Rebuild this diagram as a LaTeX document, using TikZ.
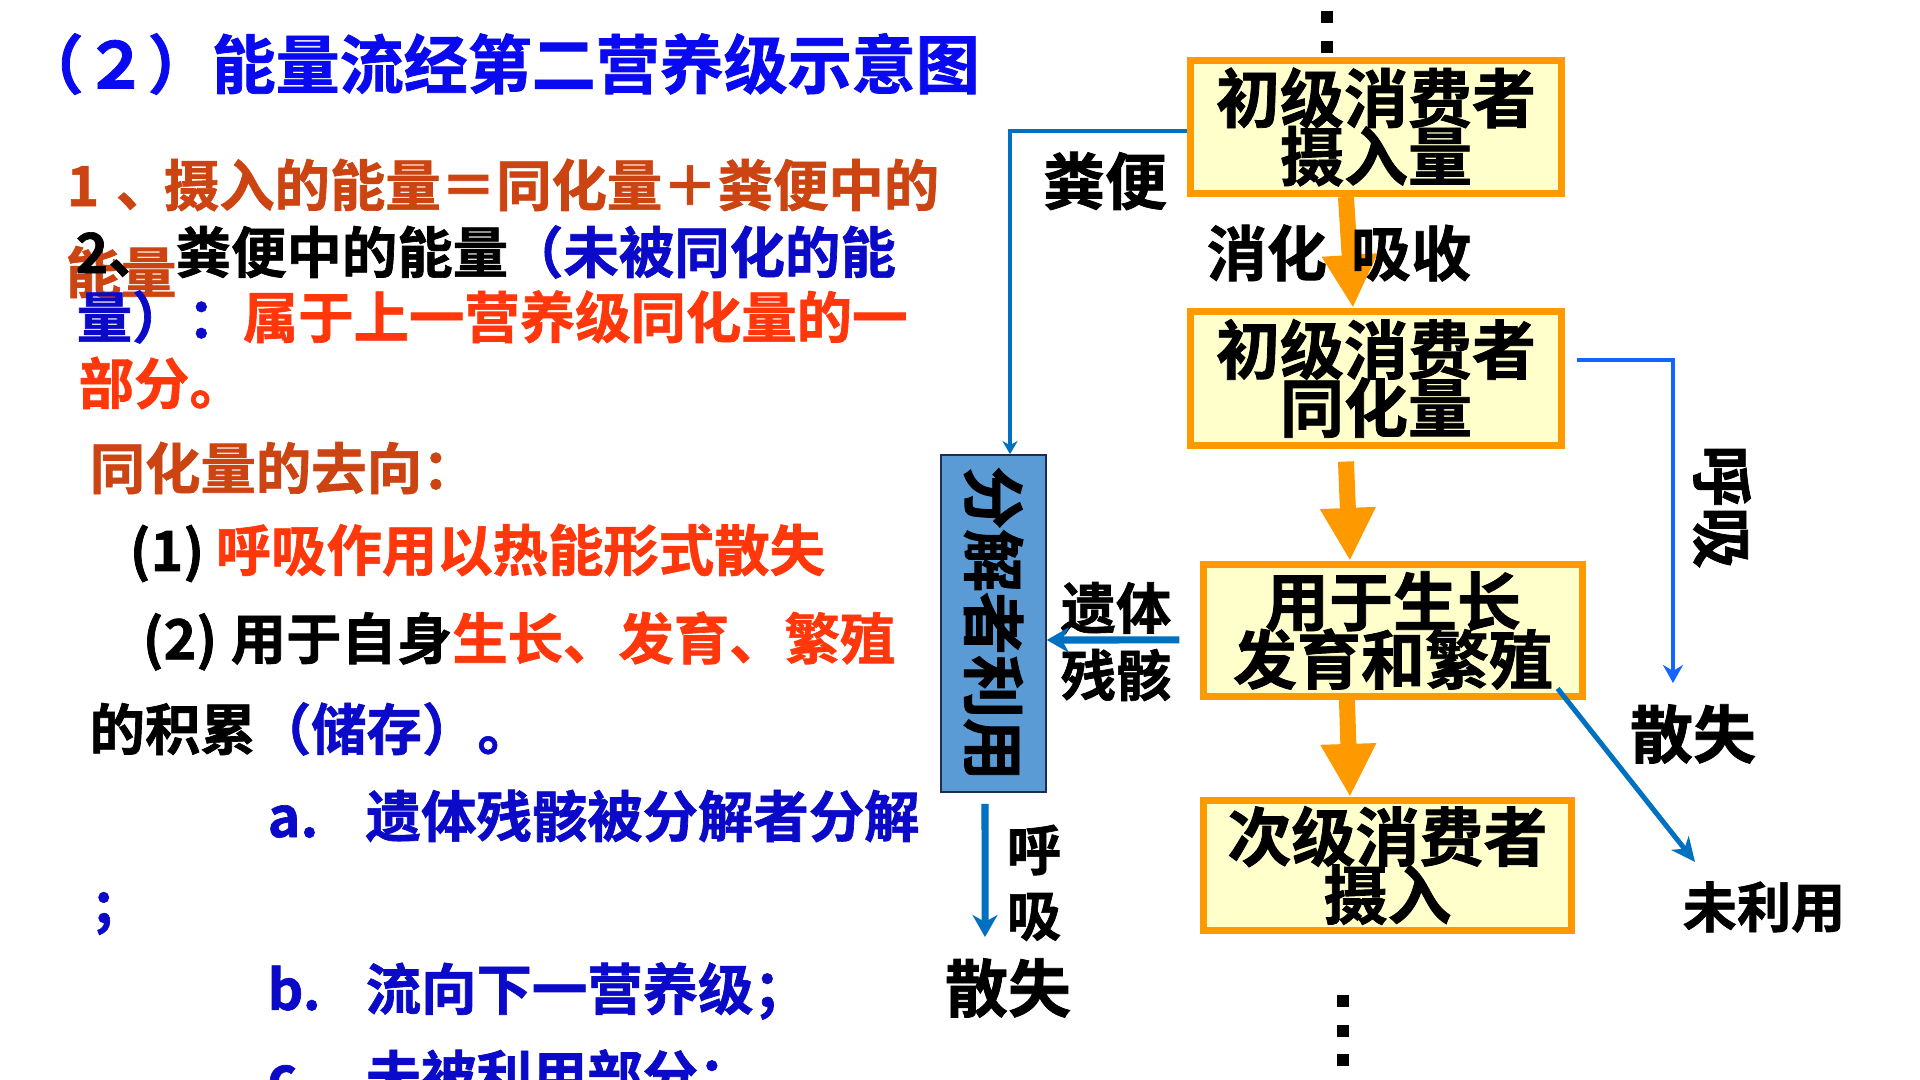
\documentclass[tikz,border=0pt]{standalone}
\usepackage{fontspec}
\setmainfont{Noto Sans CJK SC}[BoldFont={Noto Sans CJK SC Bold}, BoldFeatures={FakeBold=1.2}]
\usepackage{tikz}
\usetikzlibrary{arrows.meta}

\definecolor{titleblue}{RGB}{10,10,240}
\definecolor{textblue}{RGB}{10,10,200}
\definecolor{brickred}{RGB}{204,68,17}
\definecolor{hotred}{RGB}{255,55,10}
\definecolor{flowor}{RGB}{255,153,0}
\definecolor{boxfill}{RGB}{255,255,204}
\definecolor{lineblue}{RGB}{0,112,192}
\definecolor{brightblue}{RGB}{20,100,255}
\definecolor{decfill}{RGB}{91,155,213}
\definecolor{decline}{RGB}{30,45,80}

\newcommand{\bodysize}{\fontsize{15.75pt}{15.75pt}\selectfont\bfseries}
\newcommand{\titlesize}{\fontsize{18.2pt}{18.2pt}\selectfont\bfseries}

\begin{document}
\begin{tikzpicture}[x=0.01cm, y=-0.01cm,
    txtline/.style={anchor=west, inner sep=0pt, font=\bodysize},
    lbl/.style={inner sep=0pt, font={\fontsize{#1}{#1}\selectfont\bfseries}},
    stage/.style={draw=flowor, line width=0.07cm, fill=boxfill, inner sep=0pt, align=center,
        font={\fontsize{18.2pt}{16.5pt}\selectfont\bfseries\lineskiplimit=-20pt}},
    flow/.style={draw=flowor, line width=0.16cm, -{Triangle[length=0.53cm, width=0.52cm]}},
    feces/.style={draw=lineblue, line width=0.045cm, -{Stealth[length=0.13cm, width=0.15cm, inset=0.04cm]}},
    resp/.style={draw=brightblue, line width=0.045cm, -{Stealth[length=0.18cm, width=0.2cm, inset=0.06cm]}},
    unused/.style={draw=lineblue, line width=0.05cm, -{Stealth[length=0.24cm, width=0.22cm, inset=0.07cm]}},
    remain/.style={draw=lineblue, line width=0.07cm, -{Stealth[length=0.22cm, width=0.25cm, inset=0.07cm]}},
    vdots/.style={draw=black, line width=0.12cm, dash pattern=on 0.12cm off 0.175cm}]

    \useasboundingbox (0,0) rectangle (1920,1080);
    \clip (0,0) rectangle (1920,1080);
    \fill[white] (0,0) rectangle (1920,1080);

    % Text on the left
    \node (t0) at (19,64) [txtline, font=\titlesize, text=titleblue] {（２）能量流经第二营养级示意图};
    \node (l1) at (66,185) [txtline, text=brickred] {\makebox[0.97cm][l]{1\hspace{0.3em}、}摄入的能量＝同化量＋粪便中的};
    \node (l1b) at (65,272) [txtline, text=brickred] {能量};
    \node (l2) at (75,252) [txtline] {\makebox[1.0cm][l]{2、}粪便中的能量\textcolor{textblue}{（未被同化的能}};
    \node (l3) at (76,317) [txtline, text=hotred] {\textcolor{textblue}{量）：}属于上一营养级同化量的一};
    \node (l4) at (78,383) [txtline, text=hotred] {部分。};
    \node (l5) at (89,468) [txtline, text=brickred] {同化量的去向：};
    \node (l6) at (129,553) [txtline] {\makebox[0.86cm][l]{(1)}\textcolor{hotred}{呼吸作用以热能形式散失}};
    \node (l7) at (142,641) [txtline] {\makebox[0.88cm][l]{(2)}用于自身\textcolor{hotred}{生长、发育、繁殖}};
    \node (l8) at (89,729) [txtline] {的积累\textcolor{textblue}{（储存）。}};
    \node (la) at (267,816) [txtline, text=textblue] {\makebox[0.98cm][l]{a.}遗体残骸被分解者分解};
    \node (semi) at (94,923) [txtline, anchor=base west, text=textblue] {;};
    \node (lb) at (267,991) [txtline, text=textblue] {\makebox[0.98cm][l]{b.}流向下一营养级；};
    \node (lc) at (267,1078) [txtline, text=textblue] {\makebox[0.98cm][l]{c.}未被利用部分；};

    % Boxes
    \node (b1) at (1376,127) [stage, minimum width=3.70cm, minimum height=1.33cm] {初级消费者\\摄入量};
    \node (b2) at (1376,378.5) [stage, minimum width=3.70cm, minimum height=1.34cm] {初级消费者\\同化量};
    \node (b3) at (1393,630.5) [stage, minimum width=3.79cm, minimum height=1.32cm] {用于生长\\发育和繁殖};
    \node (b4) at (1387.5,865.5) [stage, minimum width=3.68cm, minimum height=1.30cm] {次级消费者\\摄入};

    % Decomposers
    \node (dec) at (993.5,623.5) [draw=decline, line width=0.015cm, fill=decfill, minimum width=1.05cm, minimum height=3.37cm] {};
    \node (dect) at (dec.center) [lbl=17.9pt, rotate=-90] {分解者利用};

    % Dots
    \draw[vdots] (1327,11) -- (1327,55);
    \draw[vdots] (1343,995) -- (1343,1067);

    % Orange arrows
    \draw[flow] ([xshift=-0.3cm]b1.south) -- ([xshift=-0.23cm]b2.north);
    \draw[flow] ([xshift=-0.3cm,yshift=-0.125cm]b2.south) -- ([xshift=-0.43cm]b3.north);
    \draw[flow] ([xshift=-0.46cm]b3.south) -- ([xshift=-0.375cm]b4.north);

    % Labels
    \node (fb) at (1105,181) [lbl=17.6pt] {粪便};
    \node (xh) at (1339,253) [lbl=17.1pt] {消化\hspace{0.4em}吸收};
    \node (hx1) at (1722,507) [lbl=17.6pt, rotate=-90] {呼吸};
    \node (sj1) at (1693,734) [lbl=17.9pt] {散失};
    \node (wly) at (1764,907) [lbl=15.4pt] {未利用};
    \node (yt) at (1116,608) [lbl=15.7pt] {遗体};
    \node (cg) at (1116,675) [lbl=15.7pt] {残骸};
    \node (hu) at (1034,850) [lbl=15.5pt] {呼};
    \node (xi) at (1034,917) [lbl=15.5pt] {吸};
    \node (sj2) at (1008,988) [lbl=17.9pt] {散失};

    % Free ends
    \coordinate (e1) at (1673,683);
    \coordinate (e2) at (1695,862);
    \coordinate (e3) at (985,937);

    % Blue arrows
    \draw[feces] ([yshift=-0.04cm]b1.west) -| ([xshift=0.165cm]dec.north);
    \draw[resp] ([xshift=0.12cm,yshift=0.185cm]b2.east) -| (e1);
    \draw[unused] ([xshift=-0.285cm,yshift=0.115cm]b3.south east) -- (e2);
    \draw[remain] ([xshift=-0.205cm,yshift=-0.095cm]b3.west) -- ([yshift=-0.165cm]dec.east);
    \draw[remain] ([xshift=-0.085cm,yshift=-0.11cm]dec.south) -- (e3);

\end{tikzpicture}
\end{document}
